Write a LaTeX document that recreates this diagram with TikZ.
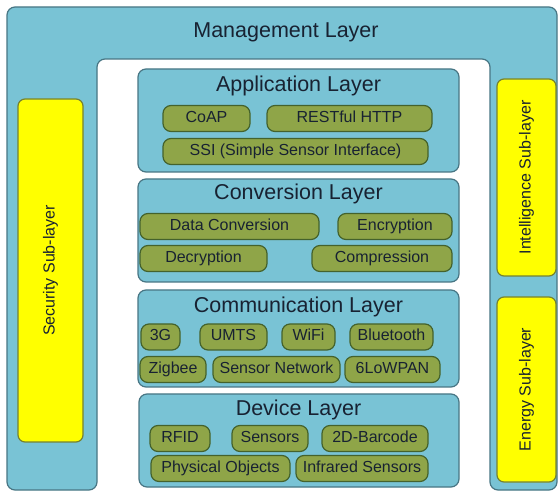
\documentclass[tikz,border=0pt]{standalone}
\usepackage{fontspec}
\setmainfont{Liberation Sans}
\definecolor{layerblue}{RGB}{121,195,213}
\definecolor{edgeblue}{RGB}{72,118,132}
\definecolor{pillgreen}{RGB}{143,165,72}
\definecolor{pilledge}{RGB}{68,98,44}
\definecolor{subyellow}{RGB}{255,255,0}
\definecolor{yellowedge}{RGB}{118,130,48}
\definecolor{textdark}{RGB}{24,34,50}
\begin{document}
\begin{tikzpicture}[x=1pt, y=-1pt,
    layer/.style={draw=edgeblue, fill=layerblue, line width=1.2pt, rounded corners=8pt},
    pill/.style={draw=pilledge, fill=pillgreen, line width=1.2pt, rounded corners=8pt,
        inner sep=0pt, minimum height=26pt, text height=11.5pt, text depth=3.5pt,
        font=\fontsize{16}{18}\selectfont, text=textdark},
    sublayer/.style={draw=yellowedge, fill=subyellow, line width=1.2pt, rounded corners=7pt,
        rotate=90, inner sep=0pt, font=\fontsize{16}{18}\selectfont, text=textdark},
    title/.style={inner sep=0pt, font=\fontsize{21.5}{24}\selectfont, text=textdark}]
    \useasboundingbox (0,0) rectangle (558,492) ;
    \fill [white] (0,0) rectangle (558,492) ;

    % management layer frame
    \draw [layer] (7,490) -- (7,7) -- (557,7) -- (557,490) -- (490,490)
        -- (490,59) -- (97,59) -- (97,490) -- cycle ;
    \node [title] (mgmt) at (286,32) {Management Layer} ;

    % side sub-layers
    \node [sublayer, minimum width=343pt, minimum height=65pt] (security) at (50.5,270.5) {Security Sub-layer} ;
    \node [sublayer, minimum width=197pt, minimum height=59pt] (intelligence) at (526.5,177.5) {Intelligence Sub-layer} ;
    \node [sublayer, minimum width=185pt, minimum height=59pt] (energy) at (526.5,389.5) {Energy Sub-layer} ;

    % application layer
    \draw [layer] (138,69) rectangle (459,172) ;
    \node [title] (apptitle) at (298.5,86) {Application Layer} ;
    \node [pill, minimum width=87pt] (coap) at (206.5,118.5) {CoAP} ;
    \node [pill, minimum width=165pt] (rest) at (349.5,118.5) {RESTful HTTP} ;
    \node [pill, minimum width=265pt] (ssi) at (295.5,151.5) {SSI (Simple Sensor Interface)} ;

    % conversion layer
    \draw [layer] (138,179) rectangle (459,282) ;
    \node [title] (convtitle) at (298.5,194) {Conversion Layer} ;
    \node [pill, minimum width=179pt] (dataconv) at (229.5,226.5) {Data Conversion} ;
    \node [pill, minimum width=114pt] (encrypt) at (395,226.5) {Encryption} ;
    \node [pill, minimum width=127pt] (decrypt) at (203.5,258.5) {Decryption} ;
    \node [pill, minimum width=140pt] (compress) at (382,258.5) {Compression} ;

    % communication layer
    \draw [layer] (138,290) rectangle (459,387) ;
    \node [title] (commtitle) at (298.5,307) {Communication Layer} ;
    \node [pill, minimum width=39pt] (threeg) at (160.5,337) {3G} ;
    \node [pill, minimum width=67pt] (umts) at (233.5,337) {UMTS} ;
    \node [pill, minimum width=53pt] (wifi) at (308.5,337) {WiFi} ;
    \node [pill, minimum width=83pt] (bluetooth) at (391.5,337) {Bluetooth} ;
    \node [pill, minimum width=66pt] (zigbee) at (173,369.5) {Zigbee} ;
    \node [pill, minimum width=127pt] (sensnet) at (276.5,369.5) {Sensor Network} ;
    \node [pill, minimum width=95pt] (lowpan) at (392.5,369.5) {6LoWPAN} ;

    % device layer
    \draw [layer] (139,394) rectangle (459,487) ;
    \node [title] (devtitle) at (298.5,410) {Device Layer} ;
    \node [pill, minimum width=60pt] (rfid) at (180,438.5) {RFID} ;
    \node [pill, minimum width=76pt] (sensors) at (270,438.5) {Sensors} ;
    \node [pill, minimum width=106pt] (barcode) at (375,438.5) {2D-Barcode} ;
    \node [pill, minimum width=139pt] (physical) at (220.5,468.5) {Physical Objects} ;
    \node [pill, minimum width=132pt] (infrared) at (362,468.5) {Infrared Sensors} ;
\end{tikzpicture}
\end{document}
